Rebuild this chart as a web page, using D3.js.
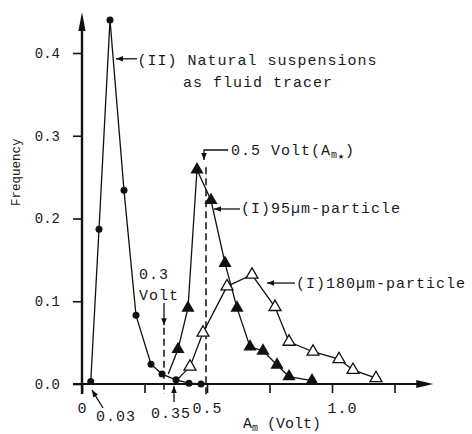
<!DOCTYPE html>
<html>
<head>
<meta charset="utf-8">
<script src="https://cdn.jsdelivr.net/npm/d3@7/dist/d3.min.js"></script>
<style>
  body { margin: 0; background: #fff; }
  text { font-family: "Liberation Mono", "Courier New", monospace; fill: #1a1a1a; }
</style>
</head>
<body>
<div id="chart"></div>
<script>
// (II) natural suspensions as fluid tracer -- filled circles
var natX = [0.035, 0.068, 0.112, 0.168, 0.216, 0.276, 0.32, 0.376, 0.428, 0.476];
var natY = [0.003, 0.187, 0.44, 0.234, 0.083, 0.024, 0.012, 0.005, 0.001, 0.0];

// (I) 95um particle -- filled triangles (first point: where the line starts, no marker)
var p95X = [0.345, 0.384, 0.424, 0.46, 0.516, 0.572, 0.62, 0.672, 0.724, 0.78, 0.828, 0.92];
var p95Y = [0.012, 0.042, 0.092, 0.259, 0.222, 0.146, 0.092, 0.045, 0.040, 0.023, 0.009, 0.004];

// (I) 180um particle -- open triangles (first point: line start, no marker)
var p180X = [0.38, 0.432, 0.484, 0.58, 0.68, 0.772, 0.828, 0.924, 1.028, 1.084, 1.176];
var p180Y = [0.005, 0.021, 0.062, 0.118, 0.132, 0.093, 0.051, 0.039, 0.030, 0.017, 0.007];

var xTicks = [0, 0.25, 0.5, 0.75, 1.0, 1.25];
var xTickLabels = ["0", "", "0.5", "", "1.0", ""];
var yTicks = [0, 0.1, 0.2, 0.3, 0.4];

var w = 472, h = 434;

var svg = d3.select("#chart").append("svg")
    .attr("width", w)
    .attr("height", h)
    .style("background", "#fff");

var x = d3.scaleLinear().domain([0, 1]).range([82, 332]);
var y = d3.scaleLinear().domain([0, 0.4]).range([384, 53]);

var ink = "#111";

function arrowHead(tx, ty, fx, fy, len, half) {
    var dx = tx - fx, dy = ty - fy;
    var d = Math.sqrt(dx * dx + dy * dy);
    var ux = dx / d, uy = dy / d;
    var bx = tx - ux * len, by = ty - uy * len;
    var pts = [[tx, ty], [bx - uy * half, by + ux * half], [bx + uy * half, by - ux * half]];
    svg.append("path")
        .attr("d", "M" + pts.join("L") + "Z")
        .attr("fill", ink);
}

// axes ---------------------------------------------------------------
var xAxis = d3.axisBottom(x)
    .tickValues(xTicks)
    .tickSize(9)
    .tickPadding(9)
    .tickFormat(function(d, i) { return xTickLabels[i]; });

var gx = svg.append("g")
    .attr("transform", "translate(0," + y(0) + ")")
    .call(xAxis);
gx.select(".domain").remove();
gx.selectAll("line").attr("stroke", ink).attr("stroke-width", 1.6);
gx.selectAll("text")
    .attr("font-size", "15px")
    .attr("fill", "#1a1a1a")
    .style("letter-spacing", "1px")
    .attr("dx", function(d) { return d === 1 ? 10 : 0; });

var yAxis = d3.axisLeft(y)
    .tickValues(yTicks)
    .tickSize(9)
    .tickPadding(13)
    .tickFormat(d3.format(".1f"));

var gy = svg.append("g")
    .attr("transform", "translate(" + x(0) + ",0)")
    .call(yAxis);
gy.select(".domain").remove();
gy.selectAll("line").attr("stroke", ink).attr("stroke-width", 1.6);
gy.selectAll("text")
    .attr("font-size", "14px")
    .attr("fill", "#1a1a1a");

// axis lines with arrows
svg.append("line")
    .attr("x1", x(-0.036)).attr("x2", x(1.34))
    .attr("y1", y(0)).attr("y2", y(0))
    .attr("stroke", ink).attr("stroke-width", 2.2);
arrowHead(x(1.405), y(0), x(1.3), y(0), 17, 4);

svg.append("line")
    .attr("x1", x(0)).attr("x2", x(0))
    .attr("y1", y(-0.012)).attr("y2", y(0.43))
    .attr("stroke", ink).attr("stroke-width", 2.4);
arrowHead(x(0), y(0.4495), x(0), y(0.4), 19, 3.6);

// axis titles
svg.append("text")
    .attr("transform", "translate(17," + y(0.256) + ") rotate(-90)")
    .attr("text-anchor", "middle")
    .attr("dominant-baseline", "central")
    .attr("font-size", "12.5px")
    .text("Frequency");

var xt = svg.append("text")
    .attr("x", x(0.644))
    .attr("y", y(-0.053))
    .attr("font-size", "15px");
xt.append("tspan").text("A");
xt.append("tspan").attr("font-size", "10px").attr("dy", 3).attr("fill", "#1a1a1a").text("m");
xt.append("tspan").attr("dy", -3).text(" (Volt)");

// dashed guide lines
var dashes = [
    { x: 0.496, y1: 0.262, y2: -0.013 },
    { x: 0.328, y1: 0.068, y2: -0.012 }
];
dashes.forEach(function(d) {
    svg.append("line")
        .attr("x1", x(d.x)).attr("x2", x(d.x))
        .attr("y1", y(d.y1)).attr("y2", y(d.y2))
        .attr("stroke", ink)
        .attr("stroke-width", 1.5)
        .attr("stroke-dasharray", "7,4");
});

// series lines -------------------------------------------------------
var line = d3.line()
    .x(function(d) { return x(d[0]); })
    .y(function(d) { return y(d[1]); });

var nat = d3.zip(natX, natY);
var p95 = d3.zip(p95X, p95Y);
var p180 = d3.zip(p180X, p180Y);

[nat, p95, p180].forEach(function(s) {
    svg.append("path")
        .datum(s)
        .attr("d", line)
        .attr("fill", "none")
        .attr("stroke", ink)
        .attr("stroke-width", 1.3);
});

// markers
svg.selectAll(".m180").data(p180.slice(1)).enter()
    .append("path")
    .attr("transform", function(d) { return "translate(" + x(d[0]) + "," + y(d[1]) + ")"; })
    .attr("d", d3.symbol().type(d3.symbolTriangle).size(62))
    .attr("fill", "#fff")
    .attr("stroke", ink)
    .attr("stroke-width", 1.3);

svg.selectAll(".m95").data(p95.slice(1)).enter()
    .append("path")
    .attr("transform", function(d) { return "translate(" + x(d[0]) + "," + y(d[1]) + ")"; })
    .attr("d", d3.symbol().type(d3.symbolTriangle).size(75))
    .attr("fill", ink);

svg.selectAll(".mnat").data(nat).enter()
    .append("circle")
    .attr("cx", function(d) { return x(d[0]); })
    .attr("cy", function(d) { return y(d[1]); })
    .attr("r", 3.5)
    .attr("fill", ink);

// annotation arrows --------------------------------------------------
var arrows = [
    [[0.22, 0.393], [0.136, 0.393]],
    [[0.584, 0.2828], [0.488, 0.2828], [0.488, 0.2707]],
    [[0.632, 0.2115], [0.528, 0.2115]],
    [[0.852, 0.122], [0.74, 0.122]],
    [[0.328, 0.098], [0.328, 0.071]],
    [[0.368, -0.0218], [0.368, -0.0024]],
    [[0.084, -0.029], [0.04, -0.0073]]
];
arrows.forEach(function(a) {
    svg.append("path")
        .datum(a)
        .attr("d", line)
        .attr("fill", "none")
        .attr("stroke", ink)
        .attr("stroke-width", 1.3);
    var t = a[a.length - 1], f = a[a.length - 2];
    arrowHead(x(t[0]), y(t[1]), x(f[0]), y(f[1]), 7, 2.8);
});

// annotation texts
var notes = [
    { t: "(II) Natural suspensions", x: 0.222, y: 0.3855, anchor: "start" },
    { t: "as fluid tracer", x: 0.404, y: 0.359, anchor: "start" },
    { t: "(I)95\u00b5m-particle", x: 0.636, y: 0.2066, anchor: "start" },
    { t: "(I)180\u00b5m-particle", x: 0.856, y: 0.116, anchor: "start" },
    { t: "0.3", x: 0.228, y: 0.127, anchor: "start" },
    { t: "Volt", x: 0.228, y: 0.1015, anchor: "start" },
    { t: "0.35", x: 0.356, y: -0.041, anchor: "middle" },
    { t: "0.03", x: 0.136, y: -0.0447, anchor: "middle" }
];
notes.forEach(function(n) {
    svg.append("text")
        .attr("x", x(n.x))
        .attr("y", y(n.y))
        .attr("text-anchor", n.anchor)
        .attr("font-size", "15px")
        .style("letter-spacing", "1px")
        .text(n.t);
});

var am = svg.append("text")
    .attr("x", x(0.596))
    .attr("y", y(0.2767))
    .attr("font-size", "15px")
    .style("letter-spacing", "1px");
am.append("tspan").text("0.5 Volt(A");
am.append("tspan").attr("font-size", "10px").attr("dy", 3).text("m");
am.append("tspan").attr("font-size", "10px").attr("dy", 1).text("\u2605");
am.append("tspan").attr("dy", -4).text(")");
</script>
</body>
</html>
